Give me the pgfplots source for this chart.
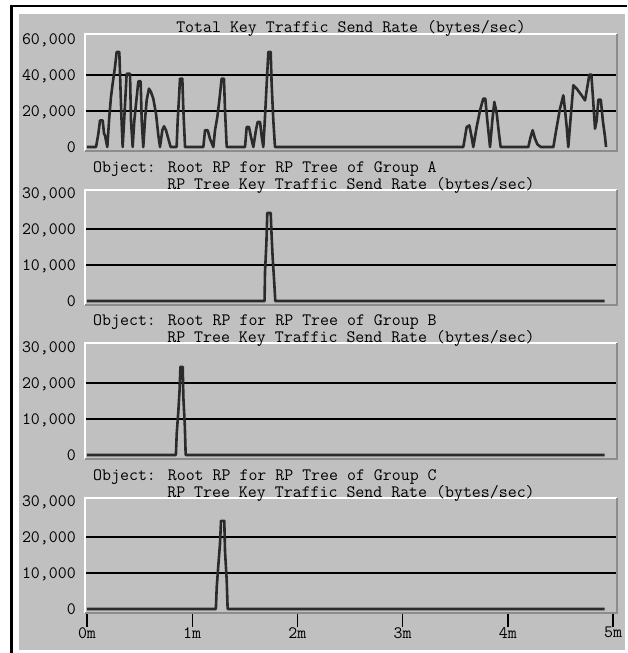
\documentclass[border=0pt]{standalone}
\usepackage{pgfplots}
\pgfplotsset{compat=1.18}
\definecolor{bgcol}{HTML}{C0C0C0}
\definecolor{tracecol}{HTML}{2B2B2B}
\definecolor{edgecol}{HTML}{8C8C8C}
\newcommand{\mono}{\ttfamily\fontsize{17.4}{20}\selectfont}
\tikzset{trace/.style={draw=tracecol, line width=2.6pt, line join=round, mark=none}}
\pgfplotsset{
  panel/.style={
    scale only axis, width=532pt, anchor=north west,
    xmin=-0.019, xmax=5.038,
    axis line style={draw=none},
    axis background/.style={fill=bgcol},
    ytick style={draw=none},
    xtick=\empty,
    scaled y ticks=false,
    tick label style={font=\mono},
    yticklabel style={anchor=base east, inner sep=0pt, xshift=-9pt, yshift=-5.2pt},
    extra y tick style={grid=major, major grid style={black, line width=1.4pt}},
    extra y tick labels={},
  }
}
\begin{document}
\begin{tikzpicture}
\useasboundingbox (0pt,0pt) rectangle (627pt,-653pt);
\fill[white] (0pt,0pt) rectangle (627pt,-653pt);
\fill[bgcol] (19pt,-14pt) rectangle (625pt,-650pt);
\draw[black, line width=2.6pt] (11.5pt,-653pt) -- (11.5pt,-5.8pt) -- (627pt,-5.8pt);

% Panel 1
\begin{axis}[panel, name=p1, at={(85pt,-34pt)}, height=117pt,
  ymin=-2222, ymax=62778,
  ytick={0,20000,40000,60000}, yticklabels={0,{20,000},{40,000},{60,000}},
  extra y ticks={20000,40000}]
\addplot[trace] coordinates {
(0.00,0)(0.086,0)(0.108,7400)(0.124,14800)(0.149,14800)(0.162,7400)(0.171,6500)(0.193,0)
(0.212,16700)(0.228,27800)(0.244,35200)(0.266,44400)(0.282,52800)(0.307,52800)(0.314,40700)(0.326,18500)(0.339,0)
(0.355,16700)(0.377,40700)(0.409,40700)(0.418,14800)(0.434,0)
(0.450,14800)(0.466,24000)(0.488,36500)(0.510,36500)(0.520,14800)(0.535,0)
(0.551,14800)(0.567,25900)(0.589,32400)(0.608,30600)(0.630,26900)(0.656,18500)(0.678,6500)(0.694,0)
(0.716,9300)(0.732,11500)(0.751,9300)(0.773,4600)(0.795,0)(0.852,0)
(0.862,14800)(0.875,27800)(0.884,38000)(0.906,38000)(0.916,20400)(0.932,0)
(1.106,0)(1.122,9300)(1.147,9300)(1.169,4600)(1.201,0)
(1.217,9300)(1.239,16700)(1.258,25900)(1.280,38000)(1.302,38000)(1.312,20400)(1.328,0)
(1.502,0)(1.518,11100)(1.540,11100)(1.559,5600)(1.581,0)
(1.606,9300)(1.622,13900)(1.645,13900)(1.661,5600)(1.676,0)
(1.692,16700)(1.708,35200)(1.724,52800)(1.746,52800)(1.755,35200)(1.771,14800)(1.787,0)
(3.577,0)(3.609,11100)(3.634,12000)(3.656,5600)(3.672,0)
(3.704,11100)(3.736,20400)(3.767,26900)(3.786,26900)(3.805,14800)(3.831,0)
(3.853,14800)(3.872,25000)(3.895,18500)(3.916,7400)(3.932,0)
(4.195,0)(4.217,5600)(4.236,9300)(4.259,4600)(4.281,1500)(4.313,0)(4.433,0)
(4.465,11100)(4.496,21300)(4.528,28700)(4.544,20400)(4.560,11100)(4.575,0)
(4.598,16700)(4.623,34300)(4.655,32400)(4.702,28700)(4.734,25900)(4.756,33300)(4.775,40200)(4.794,40200)
(4.807,29600)(4.829,10200)(4.845,14800)(4.861,26300)(4.884,26300)(4.903,14800)(4.924,5600)(4.934,0)
};
\end{axis}

% Panel 2: Group A
\begin{axis}[panel, name=p2, at={(85pt,-190pt)}, height=115pt,
  ymin=-1111, ymax=30833,
  ytick={0,10000,20000,30000}, yticklabels={0,{10,000},{20,000},{30,000}},
  extra y ticks={10000,20000}]
\addplot[trace] coordinates {
(0,0)(1.688,0)(1.692,8000)(1.705,16000)(1.714,24500)(1.746,24500)(1.755,18000)(1.765,12000)(1.778,6000)(1.790,0)(4.92,0)
};
\end{axis}

% Panel 3: Group B
\begin{axis}[panel, name=p3, at={(85pt,-343pt)}, height=116pt,
  ymin=-1111, ymax=31111,
  ytick={0,10000,20000,30000}, yticklabels={0,{10,000},{20,000},{30,000}},
  extra y ticks={10000,20000}]
\addplot[trace] coordinates {
(0,0)(0.845,0)(0.853,6000)(0.868,12000)(0.880,18000)(0.888,24500)(0.910,24500)(0.916,16000)(0.930,8000)(0.938,0)(4.92,0)
};
\end{axis}

% Panel 4: Group C
\begin{axis}[panel, name=p4, at={(85pt,-498pt)}, height=115pt,
  ymin=-1111, ymax=30833,
  ytick={0,10000,20000,30000}, yticklabels={0,{10,000},{20,000},{30,000}},
  extra y ticks={10000,20000},
  xtick={0,1,2,3,4,5}, xticklabels={0m,1m,2m,3m,4m,5m},
  xtick pos=lower, tick align=outside,
  xtick style={draw=black, line width=1.4pt},
  major tick length=14pt,
  yticklabel style={xshift=14pt},
  xticklabel style={anchor=north, inner sep=0pt}]
\addplot[trace] coordinates {
(0,0)(1.225,0)(1.233,6000)(1.248,12000)(1.264,18000)(1.274,24500)(1.305,24500)(1.312,16000)(1.328,8000)(1.337,0)(4.92,0)
};
\end{axis}

% 3D frame edges
\foreach \p in {p1,p2,p3,p4}{
  \draw[white, line width=1.5pt] (\p.south west) -- (\p.north west) -- (\p.north east);
  \draw[edgecol, line width=1.5pt] (\p.north east) -- (\p.south east) -- (\p.south west);
}

% Titles
\tikzset{ttl/.style={font=\mono, inner sep=0pt}}
\node[ttl, anchor=base] at (351pt,-32pt) {Total Key Traffic Send Rate (bytes/sec)};
\node[ttl, anchor=base west] at (93pt,-172.5pt) {Object: Root RP for RP Tree of Group A};
\node[ttl, anchor=base] at (351pt,-189.5pt) {RP Tree Key Traffic Send Rate (bytes/sec)};
\node[ttl, anchor=base west] at (93pt,-325.5pt) {Object: Root RP for RP Tree of Group B};
\node[ttl, anchor=base] at (351pt,-342.5pt) {RP Tree Key Traffic Send Rate (bytes/sec)};
\node[ttl, anchor=base west] at (93pt,-480.5pt) {Object: Root RP for RP Tree of Group C};
\node[ttl, anchor=base] at (351pt,-497.5pt) {RP Tree Key Traffic Send Rate (bytes/sec)};
\end{tikzpicture}
\end{document}
